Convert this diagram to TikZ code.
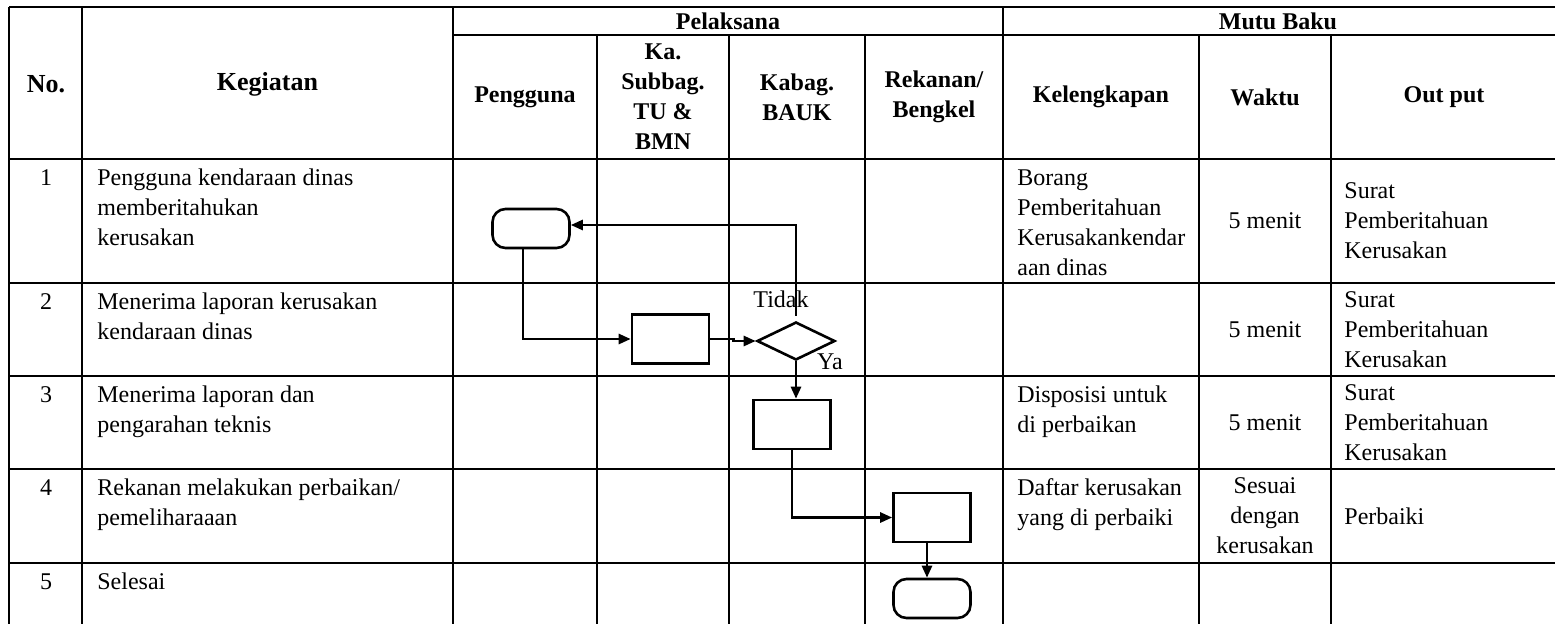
\documentclass[tikz,border=0pt]{standalone}
\usepackage{fontspec}
\setmainfont{Liberation Serif}
\usetikzlibrary{arrows.meta, shapes.geometric, positioning}

\begin{document}
\begin{tikzpicture}[
    x=0.5pt, y=-0.5pt,
    tabline/.style={line width=0.6pt},
    celltext/.style={inner sep=0pt, align=left, font=\fontsize{12}{15}\selectfont},
    colhead/.style={inner sep=0pt, align=center, font=\fontsize{12}{15}\selectfont\bfseries},
    bighead/.style={inner sep=0pt, align=center, font=\fontsize{13}{16}\selectfont\bfseries},
    grouphead/.style={inner sep=0pt, align=center, font=\fontsize{12}{14}\selectfont\bfseries},
    procbox/.style={draw, line width=1.3pt, minimum width=38.5pt, minimum height=24.5pt, inner sep=0pt},
    term/.style={draw, line width=1.3pt, rounded corners=6.5pt, minimum width=38.5pt, minimum height=19.5pt, inner sep=0pt},
    dec/.style={draw, diamond, aspect=2, line width=1.3pt, minimum width=39pt, minimum height=19pt, inner sep=0pt},
    flow/.style={line width=1.3pt, ->},
    >={Triangle[length=6pt, width=5pt]},
]
\useasboundingbox (0,0) rectangle (1555,623);
\clip (0,0) rectangle (1555,623);

% table grid
\draw[tabline] (9,7) -- (1558,7);
\draw[tabline] (453,35) -- (1558,35);
\foreach \y in {159,283,376,469,563,656}
  \draw[tabline] (9,\y) -- (1558,\y);
\foreach \x in {9,82,453,1003,1558}
  \draw[tabline] (\x,7) -- (\x,656);
\foreach \x in {597,729,865,1199,1331}
  \draw[tabline] (\x,35) -- (\x,656);

% header
\node[bighead] (hno) at (46,84) {No.};
\node[bighead] (hkeg) at (267.5,84) {Kegiatan};
\node[grouphead] (hpel) at (728,21) {Pelaksana};
\node[grouphead] (hmutu) at (1278,21) {Mutu Baku};
\node[colhead] (hpeng) at (525,97) {Pengguna};
\node[colhead] (hsub) at (663,97) {Ka.\\Subbag.\\TU \&\\BMN};
\node[colhead] (hbauk) at (797,97) {Kabag.\\BAUK};
\node[colhead] (hrek) at (934,97) {Rekanan/\\Bengkel};
\node[colhead] (hkel) at (1101,97) {Kelengkapan};
\node[colhead] (hwkt) at (1265,97) {Waktu};
\node[colhead] (hout) at (1444,97) {Out put};

% row 1
\node[celltext, anchor=north] (n1) at (46,164) {\strut 1};
\node[celltext, anchor=north west] (k1) at (97,164) {\strut Pengguna kendaraan dinas\\memberitahukan\\kerusakan};
\node[celltext, anchor=north west] (kel1) at (1017,164) {\strut Borang\\Pemberitahuan\\Kerusakankendar\\aan dinas};
\node[celltext] (w1) at (1265,221) {5 menit};
\node[celltext, anchor=west] (o1) at (1344,221) {Surat\\Pemberitahuan\\Kerusakan};

% row 2
\node[celltext, anchor=north] (n2) at (46,288) {\strut 2};
\node[celltext, anchor=north west] (k2) at (97,288) {\strut Menerima laporan kerusakan\\kendaraan dinas};
\node[celltext] (w2) at (1265,329.5) {5 menit};
\node[celltext, anchor=west] (o2) at (1344,329.5) {Surat\\Pemberitahuan\\Kerusakan};

% row 3
\node[celltext, anchor=north] (n3) at (46,381) {\strut 3};
\node[celltext, anchor=north west] (k3) at (97,381) {\strut Menerima laporan dan\\pengarahan teknis};
\node[celltext, anchor=north west] (kel3) at (1017,381) {\strut Disposisi untuk\\di perbaikan};
\node[celltext] (w3) at (1265,422.5) {5 menit};
\node[celltext, anchor=west] (o3) at (1344,422.5) {Surat\\Pemberitahuan\\Kerusakan};

% row 4
\node[celltext, anchor=north] (n4) at (46,474) {\strut 4};
\node[celltext, anchor=north west] (k4) at (97,474) {\strut Rekanan melakukan perbaikan/\\pemeliharaaan};
\node[celltext, anchor=north west] (kel4) at (1017,474) {\strut Daftar kerusakan\\yang di perbaiki};
\node[celltext, align=center] (w4) at (1265,516) {Sesuai\\dengan\\kerusakan};
\node[celltext, anchor=west] (o4) at (1344,516) {Perbaiki};

% row 5
\node[celltext, anchor=north] (n5) at (46,568) {\strut 5};
\node[celltext, anchor=north west] (k5) at (97,568) {\strut Selesai};

% flow
\node[term] (t1) at (531,228.5) {};
\node[procbox] (r2) at (670.5,339) {};
\node[dec] (dia) at (796,341) {};
\node[procbox] (r3) at (792,424.5) {};
\node[procbox] (r4) at (932,517.5) {};
\node[term] (t2) at (932,598.5) {};
\node[celltext] (ltidak) at (781,299) {Tidak};
\node[celltext] (lya) at (830,362) {Ya};

\draw[flow, shorten <=2.5pt] (dia.north) |- ([yshift=1.75pt]t1.east);
\draw[flow] ([xshift=-4pt]t1.south) |- (r2.west);
\draw[flow] (r2.east) -- ++(23,0) |- (dia.west);
\draw[flow] (dia.south) -- (dia.south |- r3.north);
\draw[flow] (r3.south) |- (r4.west);
\draw[flow] ([xshift=-2.5pt]r4.south) -- ([xshift=-2.5pt]t2.north);
\end{tikzpicture}
\end{document}
